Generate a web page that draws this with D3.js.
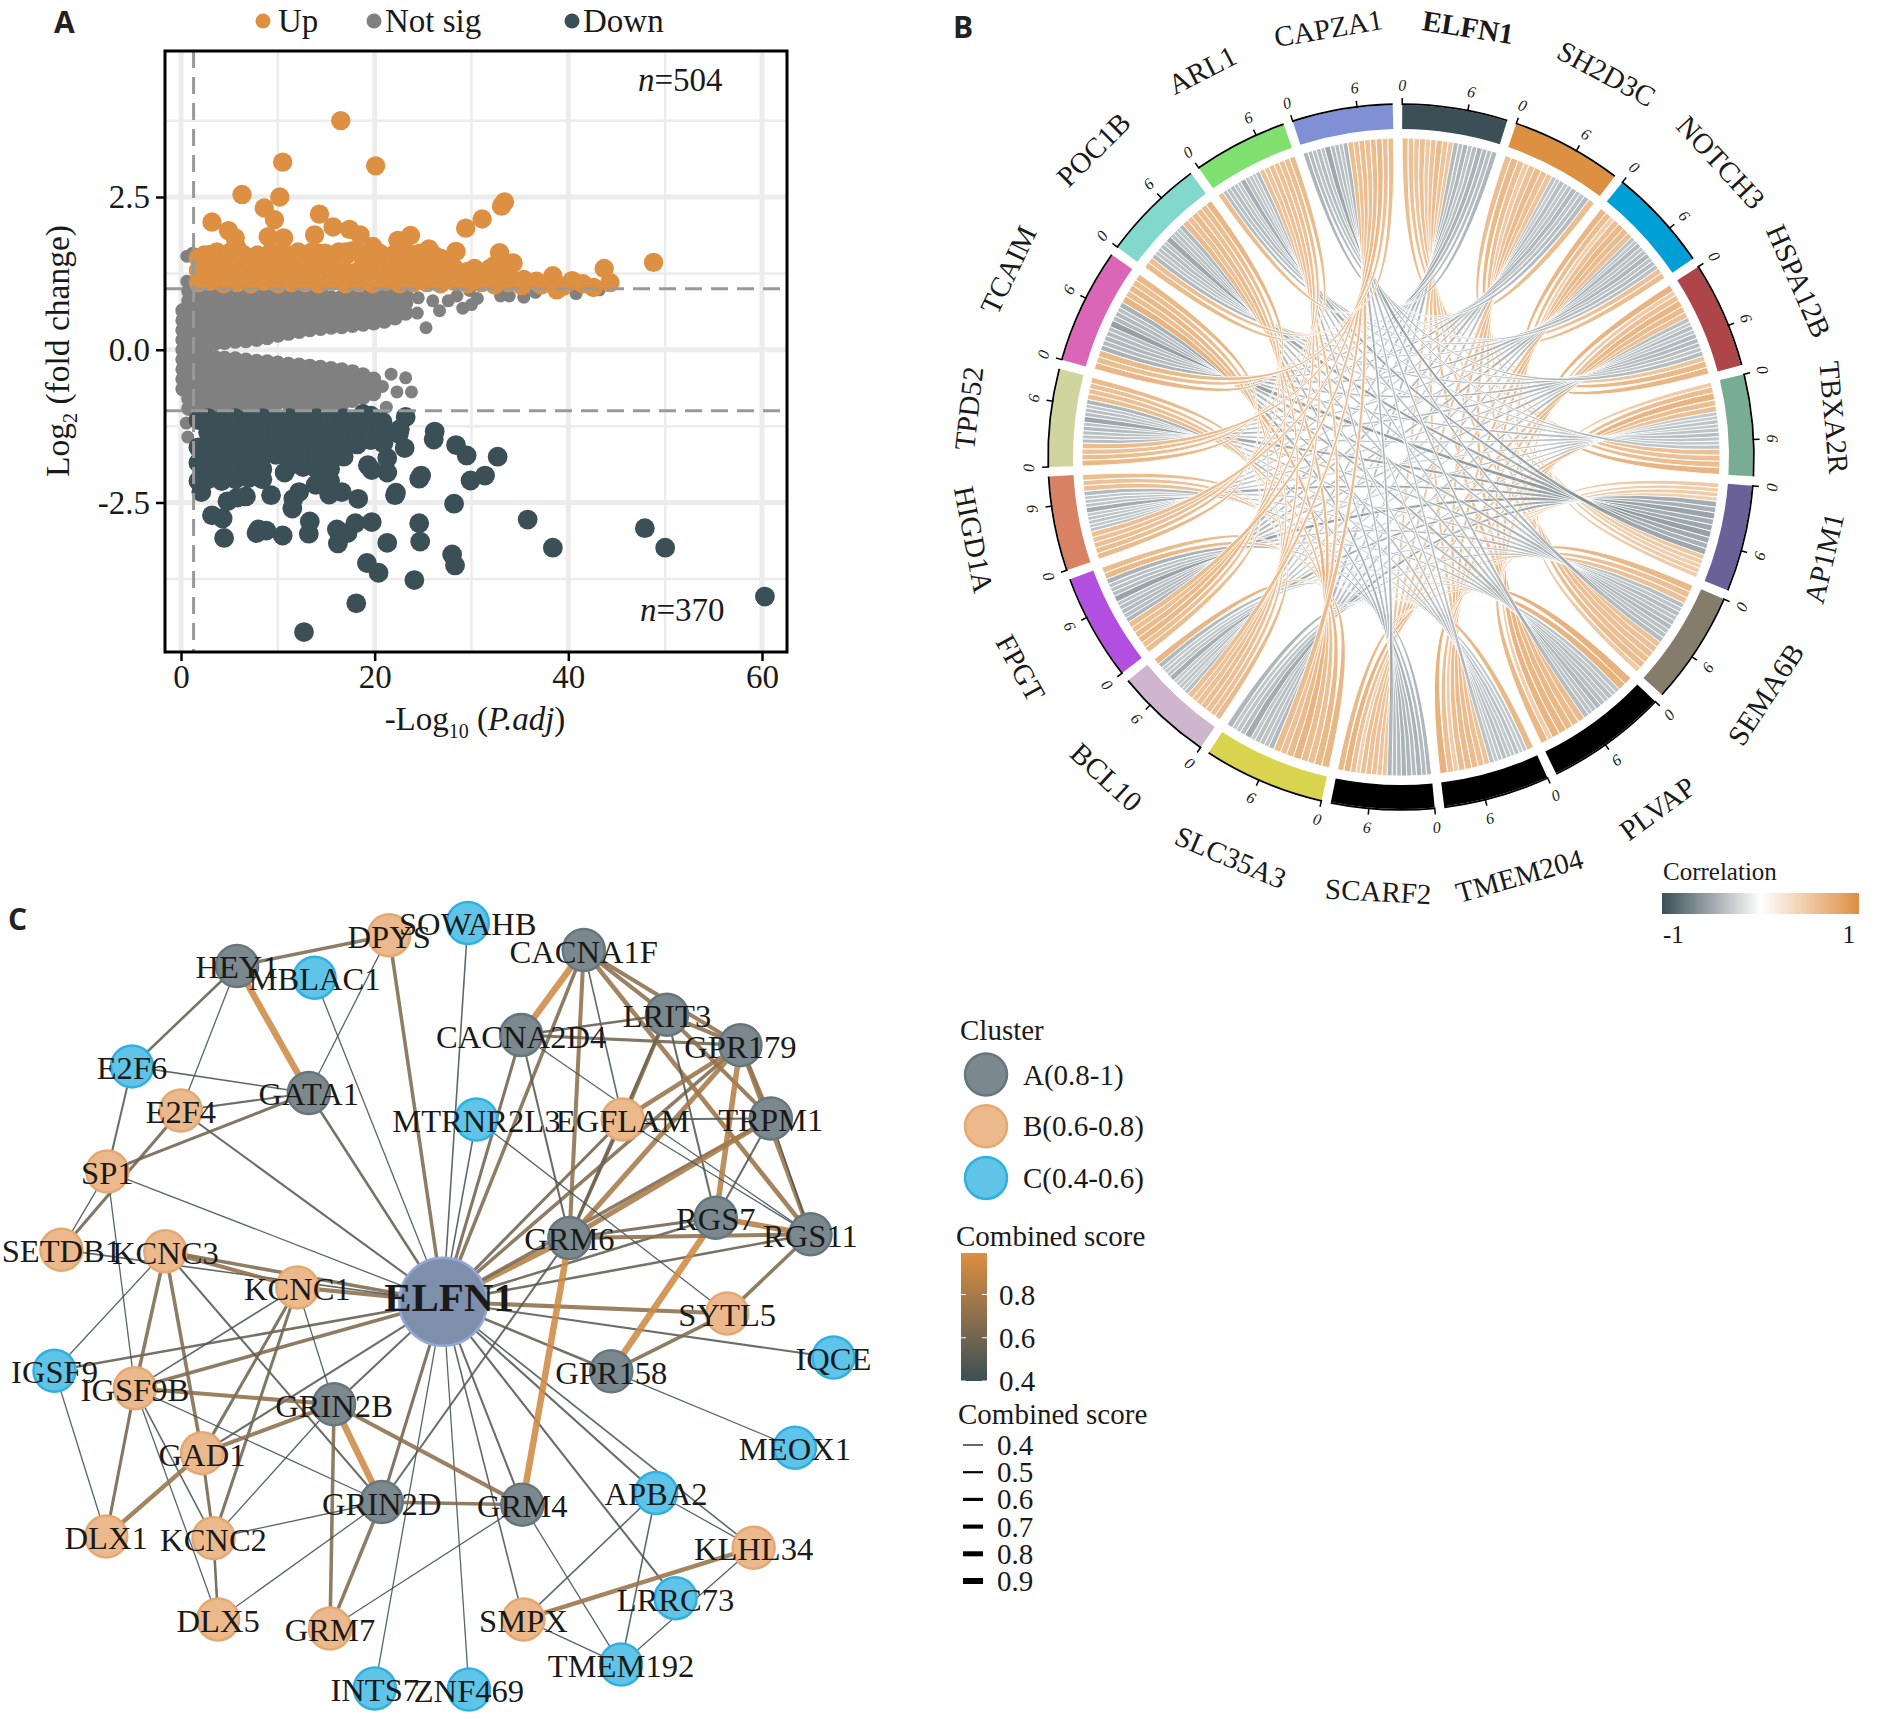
<!DOCTYPE html>
<html>
<head>
<meta charset="utf-8">
<script src="https://cdn.jsdelivr.net/npm/d3@7"></script>
<style>
	body { margin: 0; background: #fff; }
	text { font-family: 'Liberation Serif', serif; fill: #1a1a1a; }
	.panelTag { font-family: 'Open Sans', sans-serif; font-weight: 700; font-size: 30px; fill: #222; }
</style>
</head>
<body>
<div id="chart"></div>
<script>
// panel A, volcano: isolated dots are [x, y], dense parts are columns [x, y1, y2, ...]
var upDots = [[16.5,3.75],[10.5,3.07],[20.1,3.01],[6.3,2.54],[10.2,2.5],[33.4,2.42],[33.1,2.35],[8.6,2.32],[9.65,2.13],[14.3,2.22],[31.1,2.14],[29.4,1.99],[3.2,2.09],[4.9,1.95],[15.7,2.01],[17.4,1.97],[18.5,1.88],[23.7,1.87],[22.4,1.79],[13.8,1.88],[9,1.85],[10.6,1.83],[5.6,1.83],[19.8,1.69],[25.6,1.65],[28.4,1.61],[32.9,1.59],[34.3,1.42],[48.8,1.43],[43.7,1.33],[44.3,1.1],[38.4,1.21],[40.4,1.13],[41.5,1.08],[42.6,1.02],[38.8,.98],[35.4,1.15],[36.7,1.12],[30.3,1.33],[31.9,1.33]];
var upColumns = [[1.8,1.1,1.3,1.5],[2.4,1.55],[3,1.12,1.32,1.56],[3.7,1.6],[4.4,1.08,1.28,1.5],[5.1,1.6],[5.8,1.1,1.3,1.52,1.66],[6.5,1.55],[7.2,1.08,1.28,1.46],[7.9,1.55],[8.6,1.12,1.32,1.5],[9.3,1.6],[10,1.08,1.3,1.54],[10.7,1.58],[11.4,1.1,1.28,1.5],[12.1,1.6],[12.8,1.1,1.3,1.52],[13.5,1.6],[14.2,1.08,1.3,1.5,1.58],[14.9,1.58],[15.6,1.12,1.32,1.5],[16.3,1.6],[17,1.08,1.28,1.54,1.6],[17.7,1.62],[18.4,1.1,1.3,1.58],[19.1,1.55],[19.8,1.08,1.3,1.5],[20.5,1.58],[21.2,1.12,1.32,1.46],[21.9,1.55],[22.6,1.08,1.3,1.5,1.6],[23.3,1.6],[24,1.1,1.3,1.55],[24.7,1.58],[25.4,1.1,1.3,1.48],[26.1,1.55],[26.8,1.08,1.3,1.5],[28.2,1.12,1.34],[29.6,1.08,1.28],[31,1.1,1.25],[32.4,1.06,1.22,1.38],[33.8,1.1,1.3],[35.2,1.05],[37.2,1.06],[39.5,1.04]];
var downDots = [[12.7,-4.62],[18.1,-4.15],[60.3,-4.04],[24.1,-3.77],[20.4,-3.65],[19.2,-3.49],[28.3,-3.53],[28,-3.35],[38.4,-3.24],[50,-3.24],[47.9,-2.92],[35.8,-2.78],[24.7,-3.14],[24.6,-2.84],[21.3,-3.16],[19.7,-2.82],[18,-2.84],[17.2,-3],[16.2,-3.17],[16.1,-2.94],[13.3,-2.81],[13.2,-3.01],[10.5,-3.04],[7.8,-3],[8,-2.94],[8.8,-2.96],[4.45,-3.08],[3.2,-2.71],[4.3,-2.76],[11.5,-2.6],[11.6,-2.44],[28.2,-2.52],[22.1,-2.38],[22.2,-2.34],[18.3,-2.44],[16.6,-2.33],[15.3,-2.37],[12.2,-2.33],[9.3,-2.38],[6.7,-2.4],[4.8,-2.48],[2.1,-2.33],[32.7,-1.75],[31.4,-2.06],[29.9,-2.14],[24.8,-2.06],[24.6,-2.11],[28.4,-1.56],[29.5,-1.73],[26.2,-1.34],[26.1,-1.47],[23.1,-1.61],[23.2,-1.1],[22.6,-1.3],[22.5,-1.38],[21.3,-2.01],[21.3,-1.77],[20.9,-1.53],[19.3,-1.89],[19.7,-1.97],[18.8,-1.05],[13.9,-2.21],[10.7,-2.01],[5.8,-2.42],[15.4,-2.15],[14.8,-2.05]];
var downColumns = [[1.8,-1.15,-1.6,-1.85,-2.15],[2.8,-1.12,-1.35,-1.55,-1.75,-1.95,-2.12],[4.2,-1.15,-1.35,-1.55,-1.75,-1.95,-2.15],[5.6,-1.12,-1.35,-1.55,-1.75,-1.95,-2.12],[7,-1.15,-1.35,-1.55,-1.75,-1.95,-2.1],[8.4,-1.12,-1.35,-1.55,-1.75,-1.95,-2.12],[9.8,-1.15,-1.35,-1.55,-1.72],[11.2,-1.12,-1.35,-1.55,-1.72,-1.9],[12.6,-1.15,-1.35,-1.55,-1.75,-1.92],[14,-1.12,-1.35,-1.55,-1.78,-1.95],[15.4,-1.15,-1.35,-1.55,-1.75,-1.95],[16.8,-1.12,-1.35,-1.55,-1.75],[18.2,-1.15,-1.35,-1.55],[19.6,-1.08,-1.35,-1.48],[20.8,-1.18,-1.32]];
var greyDots = [[.6,1.53],[1.2,1.58],[.6,1.12],[.7,-1.43],[.55,-1.2],[25.3,.36],[24.4,.6],[26.7,.64],[26,.8],[27.6,.8],[29.1,.68],[30,.74],[30.6,.84],[33,.88],[33.9,.88],[35.4,.86],[36.6,.94],[40.8,.92],[43.2,.98],[33,.97],[29.8,.97],[24.5,.85],[28.5,.88],[21.7,-.4],[23.2,-.46],[22.3,-.69],[23.8,-.69],[21.2,-.94],[20.8,-.6]];
var greyColumns = [
	[.2,-.64,-.48,-.32,-.16,0,.16,.32,.48,.64],
	[.8,-.96,-.8,-.64,-.48,-.32,-.16,0,.16,.32,.48,.64,.8,.96],
	[1.6,-.96,-.8,-.64,-.48,-.32,-.16,0,.16,.32,.48,.64,.8,.96],
	[2.5,-.96,-.8,-.64,-.48,-.32,-.16,0,.16,.32,.48,.64,.8,.96],
	[3.5,.11,.27,.43,.59,.75,.91,-.13,-.29,-.45,-.61,-.77,-.93],
	[4.5,.12,.28,.44,.6,.76,.92,-.14,-.3,-.46,-.62,-.78,-.93],
	[5.6,.14,.3,.46,.62,.78,.93,-.15,-.31,-.47,-.63,-.79,-.93],
	[6.7,.15,.31,.47,.63,.79,.93,-.17,-.33,-.49,-.65,-.81,-.93],
	[7.8,.17,.33,.49,.65,.81,.93,-.19,-.35,-.51,-.67,-.83,-.93],
	[8.9,.2,.36,.52,.68,.84,.95,-.2,-.36,-.52,-.68,-.84,-.94],
	[10,.24,.4,.56,.72,.88,-.22,-.38,-.54,-.7,-.86],
	[11.1,.27,.43,.59,.75,.91,-.24,-.4,-.56,-.72,-.88],
	[12.2,.3,.46,.62,.78,.93,-.25,-.41,-.57,-.73,-.89],
	[13.3,.33,.49,.65,.81,.94,-.27,-.43,-.59,-.75,-.91],
	[14.4,.35,.51,.67,.83,.95,-.29,-.45,-.61,-.77,-.92],
	[15.5,.37,.53,.69,.85,-.31,-.47,-.63,-.79,-.93],
	[16.6,.38,.54,.7,.86,-.33,-.49,-.65,-.81,-.9],
	[17.7,.4,.56,.72,.88,-.36,-.52,-.68,-.83],
	[18.8,.42,.58,.74,.9,-.41,-.57,-.73,-.78],
	[19.9,.44,.6,.76,.9,-.48,-.6,-.72],
	[21,.47,.63,.79,.92],
	[22.1,.52,.68,.84,.93],
	[23.2,.6,.76,.9]
];
var volcanoXTicks = [0, 20, 40, 60];
var volcanoYTicks = [-2.5, 0, 2.5];
var volcanoYLabels = ['-2.5', '0.0', '2.5'];
var volcanoXMinor = [10, 30, 50];
var volcanoYMinor = [-3.75, -1.25, 1.25, 3.75];

// panel B, chord: clockwise from 12 o'clock
var genes = ['ELFN1','SH2D3C','NOTCH3','HSPA12B','TBXA2R','AP1M1','SEMA6B','PLVAP','TMEM204','SCARF2','SLC35A3','BCL10','FPGT','HIGD1A','TPD52','TCAIM','POC1B','ARL1','CAPZA1'];
var geneTotals = [9.7,10.2,9.5,9.8,9.35,9.8,10.4,11.2,9.8,9.5,11.2,9,9.8,8.7,9,10.6,9.5,8.7,9.25];
var geneColors = ['#3a4f56','#dd8f42','#00a0d6','#ae4549','#78ad93','#6a6198','#857c6b','#000000','#000000','#000000','#d9d44d','#cfb6cf','#b34fe0','#d88263','#d0d59f','#d966b6','#83d8cc','#7fe06f','#7f90d4'];
// upper triangle of the correlation table, one row per gene
var corrRows = [
	[.62,.58,.55,.6,.52,.57,.63,.56,.54,-.5,-.46,-.52,-.44,-.48,-.55,-.5,-.47,-.53],
	[.61,.66,.6,.5,.58,.64,.6,.55,-.42,-.38,-.47,-.4,-.44,-.5,-.42,-.45,-.48],
	[.68,.62,.47,.6,.66,.63,.58,-.44,-.41,-.5,-.43,-.46,-.52,-.44,-.48,-.45],
	[.7,.5,.6,.69,.64,.6,-.46,-.4,-.48,-.42,-.5,-.5,-.47,-.43,-.49],
	[.48,.62,.7,.62,.59,-.4,-.38,-.44,-.4,-.44,-.47,-.42,-.4,-.43],
	[.5,.46,.48,.45,-.6,-.58,-.66,-.6,-.64,-.68,-.62,-.58,-.63],
	[.66,.6,.58,-.46,-.42,-.48,-.43,-.47,-.5,-.44,-.46,-.48],
	[.72,.7,-.42,-.4,-.46,-.42,-.46,-.5,-.44,-.42,-.47],
	[.66,-.4,-.38,-.45,-.4,-.42,-.46,-.41,-.4,-.44],
	[-.52,-.5,-.55,-.5,-.53,-.56,-.5,-.48,-.52],
	[.68,.66,.6,.62,.7,.64,.58,.62],
	[.64,.58,.6,.62,.6,.56,.6],
	[.62,.6,.66,.64,.6,.62],
	[.64,.62,.6,.58,.6],
	[.66,.62,.6,.63],
	[.68,.62,.66],
	[.64,.6],
	[.62]
];
var chordTicks = [0, 6];

// panel C, network: node places are in the layout units of the figure
var nodeNames = ['ELFN1','HEY1','DPYS','SOWAHB','MBLAC1','CACNA1F','CACNA2D4','LRIT3','GPR179','E2F6','GATA1','E2F4','MTRNR2L3','EGFLAM','TRPM1','SP1','RGS7','RGS11','GRM6','SETDB1','KCNC3','KCNC1','SYTL5','IQCE','GPR158','IGSF9','IGSF9B','GRIN2B','GAD1','MEOX1','APBA2','GRIN2D','GRM4','KLHL34','DLX1','KCNC2','LRRC73','DLX5','GRM7','SMPX','TMEM192','INTS7','ZNF469'];
var nodeClusters = ['H','A','B','C','C','A','A','A','A','C','A','B','C','B','A','B','A','A','A','B','B','B','B','C','A','C','B','A','B','C','C','A','A','B','B','B','C','B','B','B','C','C','C'];
var nodeX = [772,413,678,815,548,1017,908,1162,1290,230,538,315,830,1085,1343,187,1247,1412,992,107,288,518,1267,1452,1065,95,235,582,352,1385,1143,665,910,1313,185,372,1177,380,575,912,1082,653,817];
var nodeY = [775,143,85,62,165,113,273,235,292,332,382,415,432,432,430,530,617,648,655,677,680,748,797,880,906,905,938,968,1060,1050,1135,1152,1157,1238,1217,1220,1333,1373,1390,1373,1458,1503,1505];
var edgeFrom = ['ELFN1','ELFN1','ELFN1','ELFN1','ELFN1','ELFN1','ELFN1','ELFN1','ELFN1','ELFN1','ELFN1','ELFN1','ELFN1','ELFN1','ELFN1','ELFN1','ELFN1','ELFN1','ELFN1','ELFN1','ELFN1','ELFN1','ELFN1','ELFN1','ELFN1','ELFN1','ELFN1','ELFN1','ELFN1','ELFN1','ELFN1','ELFN1','ELFN1','HEY1','HEY1','HEY1','HEY1','GATA1','GATA1','GATA1','GATA1','E2F4','SP1','SP1','SP1','CACNA1F','CACNA1F','CACNA1F','CACNA1F','CACNA1F','CACNA1F','CACNA2D4','CACNA2D4','CACNA2D4','CACNA2D4','LRIT3','LRIT3','LRIT3','LRIT3','LRIT3','GPR179','GPR179','GPR179','GPR179','GPR179','TRPM1','TRPM1','TRPM1','TRPM1','EGFLAM','EGFLAM','MTRNR2L3','RGS7','RGS7','RGS7','RGS11','RGS11','SYTL5','GPR158','GRM6','GRM6','KCNC3','KCNC3','KCNC3','KCNC3','KCNC3','KCNC1','KCNC1','KCNC1','KCNC1','IGSF9','IGSF9B','IGSF9B','IGSF9B','IGSF9B','IGSF9B','GRIN2B','GRIN2B','GRIN2B','GRIN2B','GRIN2B','GAD1','GAD1','GRIN2D','GRIN2D','GRIN2D','GRIN2D','KCNC2','GRM4','GRM4','APBA2','APBA2','APBA2','KLHL34','KLHL34','SMPX'];
var edgeTo = ['DPYS','MBLAC1','SOWAHB','MTRNR2L3','CACNA1F','CACNA2D4','GATA1','E2F4','SP1','KCNC3','KCNC1','SETDB1','IGSF9','IGSF9B','GRIN2B','GAD1','GRIN2D','INTS7','ZNF469','SMPX','GRM4','LRRC73','APBA2','KLHL34','GPR158','IQCE','SYTL5','RGS11','RGS7','GRM6','EGFLAM','GPR179','TRPM1','DPYS','GATA1','E2F6','E2F4','DPYS','E2F6','E2F4','SP1','SETDB1','E2F6','SETDB1','IGSF9B','CACNA2D4','LRIT3','GPR179','RGS11','GRM6','EGFLAM','LRIT3','GPR179','GRM6','RGS11','GPR179','TRPM1','EGFLAM','GRM6','RGS7','TRPM1','RGS11','RGS7','EGFLAM','GRM6','EGFLAM','RGS7','GRM6','RGS11','GRM6','RGS11','SYTL5','RGS11','GRM6','GPR158','GRM6','SYTL5','GPR158','MEOX1','GRM4','GRIN2D','KCNC1','IGSF9B','GAD1','GRIN2D','IGSF9','IGSF9B','GAD1','KCNC2','GRIN2B','DLX1','GRIN2B','DLX1','KCNC2','GRIN2D','DLX5','GAD1','KCNC2','GRIN2D','GRM4','GRM7','DLX1','KCNC2','GRM4','GRM7','KCNC2','DLX5','DLX5','GRM7','TMEM192','KLHL34','SMPX','TMEM192','SMPX','TMEM192','TMEM192'];
var edgeScore = [.65,.42,.45,.45,.65,.6,.55,.5,.42,.65,.7,.45,.55,.65,.5,.5,.6,.42,.42,.45,.5,.5,.5,.45,.55,.5,.7,.55,.55,.85,.6,.65,.65,.65,.95,.55,.42,.42,.45,.5,.6,.6,.5,.42,.42,.95,.7,.7,.75,.7,.45,.55,.6,.5,.42,.7,.7,.7,.6,.5,.7,.75,.85,.75,.8,.5,.5,.8,.45,.6,.42,.42,.85,.6,.95,.7,.65,.65,.42,.95,.5,.7,.65,.65,.5,.42,.45,.6,.6,.42,.42,.7,.6,.45,.42,.42,.7,.42,.95,.7,.65,.75,.6,.65,.65,.42,.42,.55,.42,.42,.42,.45,.45,.75,.42,.42];
var clusterNames = ['A(0.8-1)', 'B(0.6-0.8)', 'C(0.4-0.6)'];
var clusterFill = ['#7b888e', '#ecb98d', '#5fc4e8'];
var clusterLine = ['#65767d', '#e4a873', '#2fb0e0'];
var scoreTicks = [0.8, 0.6, 0.4];
var scoreWidths = [0.4, 0.5, 0.6, 0.7, 0.8, 0.9];

var svg = d3.select('#chart').append('svg')
	.attr('width', 1886)
	.attr('height', 1723)
	.style('display', 'block');

var dark = '#3a4f56', orange = '#dd8f42', grey = '#808080';

var expandColumns = function(cols){
	var out = [];
	cols.forEach(function(c){
		c.slice(1).forEach(function(y){ out.push([c[0], y]); });
	});
	return out;
};

var addVolcano = function(){
	var x = d3.scaleLinear().domain([0, 60]).range([181, 762]);
	var y = d3.scaleLinear().domain([-2.5, 2.5]).range([502.5, 197]);
	var g = svg.append('g').attr('id', 'volcano');
	var left = 165, right = 787, top = 51, bottom = 652;

	g.selectAll('.minorX').data(volcanoXMinor).enter().append('line')
		.attr('x1', function(d){ return x(d); }).attr('x2', function(d){ return x(d); })
		.attr('y1', top).attr('y2', bottom).attr('stroke', '#ececec').attr('stroke-width', 2.5);
	g.selectAll('.minorY').data(volcanoYMinor).enter().append('line')
		.attr('y1', function(d){ return y(d); }).attr('y2', function(d){ return y(d); })
		.attr('x1', left).attr('x2', right).attr('stroke', '#ececec').attr('stroke-width', 2.5);
	g.selectAll('.majorX').data(volcanoXTicks).enter().append('line')
		.attr('x1', function(d){ return x(d); }).attr('x2', function(d){ return x(d); })
		.attr('y1', top).attr('y2', bottom).attr('stroke', '#ececec').attr('stroke-width', 5);
	g.selectAll('.majorY').data(volcanoYTicks).enter().append('line')
		.attr('y1', function(d){ return y(d); }).attr('y2', function(d){ return y(d); })
		.attr('x1', left).attr('x2', right).attr('stroke', '#ececec').attr('stroke-width', 5);

	var addDots = function(points, color, r){
		g.append('g').selectAll('circle').data(points).enter().append('circle')
			.attr('cx', function(d){ return x(d[0]); })
			.attr('cy', function(d){ return y(d[1]); })
			.attr('r', r)
			.attr('fill', color);
	};
	addDots(expandColumns(greyColumns), grey, 7.6);
	addDots(greyDots, grey, 6.5);
	addDots(upDots.concat(expandColumns(upColumns)), orange, 9.7);
	addDots(downDots.concat(expandColumns(downColumns)), dark, 9.9);

	// cut-offs sit on top of the dots
	g.append('line').attr('x1', x(1.3)).attr('x2', x(1.3)).attr('y1', top).attr('y2', bottom)
		.attr('stroke', '#999').attr('stroke-width', 3).attr('stroke-dasharray', '17 9');
	[1, -1].forEach(function(v){
		g.append('line').attr('x1', left).attr('x2', right).attr('y1', y(v)).attr('y2', y(v))
			.attr('stroke', '#999').attr('stroke-width', 3).attr('stroke-dasharray', '17 9');
	});

	g.append('rect').attr('x', left).attr('y', top).attr('width', right - left).attr('height', bottom - top)
		.attr('fill', 'none').attr('stroke', '#000').attr('stroke-width', 3);

	var xAxis = d3.axisBottom(x).tickValues(volcanoXTicks).tickSize(9).tickPadding(4).tickFormat(d3.format('d'));
	var yAxis = d3.axisLeft(y).tickValues(volcanoYTicks).tickSize(9).tickPadding(6)
		.tickFormat(function(d, i){ return volcanoYLabels[i]; });
	var gx = g.append('g').attr('transform', 'translate(0,' + bottom + ')').call(xAxis);
	var gy = g.append('g').attr('transform', 'translate(' + left + ',0)').call(yAxis);
	[gx, gy].forEach(function(a){
		a.select('.domain').remove();
		a.selectAll('line').attr('stroke', '#000').attr('stroke-width', 2.5);
		a.selectAll('text').style('font-family', 'Liberation Serif').style('font-size', '33px').attr('fill', '#1a1a1a');
	});

	var xt = g.append('text').attr('x', 475).attr('y', 730).attr('text-anchor', 'middle').style('font-size', '33px');
	xt.append('tspan').text('-Log');
	xt.append('tspan').attr('dy', 8).style('font-size', '20px').text('10');
	xt.append('tspan').attr('dy', -8).text(' (');
	xt.append('tspan').style('font-style', 'italic').text('P.adj');
	xt.append('tspan').text(')');

	var yt = g.append('text').attr('transform', 'translate(69,351) rotate(-90)').attr('text-anchor', 'middle').style('font-size', '33.5px');
	yt.append('tspan').text('Log');
	yt.append('tspan').attr('dy', 8).style('font-size', '20px').text('2');
	yt.append('tspan').attr('dy', -8).text(' (fold change)');

	var addN = function(px, py, value){
		var t = g.append('text').attr('x', px).attr('y', py).style('font-size', '33px');
		t.append('tspan').style('font-style', 'italic').text('n');
		t.append('tspan').text('=' + value);
	};
	addN(638, 91, '504');
	addN(640, 621, '370');

	var legendItems = [['Up', orange, 263, 278], ['Not sig', grey, 374, 385], ['Down', dark, 572, 583]];
	legendItems.forEach(function(d){
		g.append('circle').attr('cx', d[2]).attr('cy', 21).attr('r', 7.5).attr('fill', d[1]);
		g.append('text').attr('x', d[3]).attr('y', 32).style('font-size', '33px').text(d[0]);
	});
};

// every pair gets one end in each sector, first end goes to the next sector clockwise
var addChord = function(){
	var cx = 1401, cy = 457, n = genes.length;
	var rOuter = 352, rInner = 328, rLink = 319;
	var gapDeg = 1.55;
	var g = svg.append('g').attr('id', 'chord').attr('transform', 'translate(' + cx + ',' + cy + ')');
	var corrAt = function(i, j){
		return i < j ? corrRows[i][j - i - 1] : corrRows[j][i - j - 1];
	};
	var perUnit = (360 - n * gapDeg) / d3.sum(geneTotals);
	var rad = function(deg){ return deg * Math.PI / 180; };

	var sectors = [];
	var pos = 0.2;
	genes.forEach(function(name, i){
		var angle = d3.scaleLinear().domain([0, geneTotals[i]]).range([pos, pos + geneTotals[i] * perUnit]);
		sectors.push({ name: name, index: i, angle: angle, start: pos, end: pos + geneTotals[i] * perUnit });
		pos += geneTotals[i] * perUnit + gapDeg;
	});

	var ends = {};
	sectors.forEach(function(s, i){
		var rowSum = 0;
		d3.range(1, n).forEach(function(k){ rowSum += Math.abs(corrAt(i, (i + k) % n)); });
		var a = d3.scaleLinear().domain([0, rowSum]).range([s.start, s.end]);
		var run = 0;
		d3.range(1, n).forEach(function(k){
			var j = (i + k) % n;
			var w = Math.abs(corrAt(i, j));
			ends[i + '_' + j] = { startAngle: rad(a(run)), endAngle: rad(a(run + w)), radius: rLink };
			run += w;
		});
	});

	var links = [];
	corrRows.forEach(function(row, i){
		row.forEach(function(v, k){
			var j = i + k + 1;
			links.push({ source: ends[i + '_' + j], target: ends[j + '_' + i], value: v });
		});
	});

	var corrColor = d3.scaleLinear().domain([-1, 0, 1]).range([dark, '#ffffff', orange]);
	var ribbon = d3.ribbon();
	g.append('g').selectAll('path').data(links).enter().append('path')
		.attr('d', ribbon)
		.attr('fill', function(d){ return corrColor(d.value); })
		.attr('fill-opacity', function(d){ return d.value < 0 ? 0.78 : 0.95; })
		.attr('stroke', '#fff')
		.attr('stroke-width', 0.9);

	var arc = d3.arc();
	g.append('g').selectAll('path').data(sectors).enter().append('path')
		.attr('d', function(d){
			return arc({ innerRadius: rInner, outerRadius: rOuter, startAngle: rad(d.start), endAngle: rad(d.end) });
		})
		.attr('fill', function(d, i){ return geneColors[i]; });

	// axis on the outer edge
	g.append('g').selectAll('path').data(sectors).enter().append('path')
		.attr('d', function(d){
			return arc({ innerRadius: rOuter, outerRadius: rOuter + 1.8, startAngle: rad(d.start), endAngle: rad(d.end) });
		})
		.attr('fill', '#000');

	var facing = function(deg){
		return (deg > 90 && deg < 270) ? deg - 180 : deg;
	};
	var place = function(deg, r){
		return 'rotate(' + deg + ') translate(0,' + (-r) + ') rotate(' + (facing(deg) - deg) + ')';
	};
	sectors.forEach(function(s, i){
		chordTicks.forEach(function(t){
			var deg = s.angle(t);
			g.append('line').attr('transform', 'rotate(' + deg + ')')
				.attr('y1', -rOuter).attr('y2', -rOuter - 7).attr('stroke', '#000').attr('stroke-width', 1.5);
			g.append('text').attr('transform', place(deg, rOuter + 20))
				.attr('text-anchor', 'middle').attr('dominant-baseline', 'central')
				.style('font-size', '16px').style('font-style', 'italic').text(t);
		});
		var mid = (s.start + s.end) / 2;
		g.append('text').attr('transform', place(mid, 435))
			.attr('text-anchor', 'middle').attr('dominant-baseline', 'central')
			.style('font-size', '29px').style('font-weight', i == 0 ? 700 : 400).text(s.name);
	});

	// legend
	var grad = svg.append('defs').append('linearGradient').attr('id', 'corrGrad');
	[[0, dark], [50, '#ffffff'], [100, orange]].forEach(function(d){
		grad.append('stop').attr('offset', d[0] + '%').attr('stop-color', d[1]);
	});
	svg.append('text').attr('x', 1663).attr('y', 880).style('font-size', '25px').text('Correlation');
	svg.append('rect').attr('x', 1662).attr('y', 893).attr('width', 197).attr('height', 21).attr('fill', 'url(#corrGrad)');
	svg.append('text').attr('x', 1663).attr('y', 943).style('font-size', '25px').text('-1');
	svg.append('text').attr('x', 1855).attr('y', 943).attr('text-anchor', 'end').style('font-size', '25px').text('1');
};

var addNetwork = function(){
	var px = d3.scaleLinear().domain([0, 1568]).range([0, 900]);
	var py = d3.scaleLinear().domain([0, 1568]).range([890, 1723]);
	var scoreColor = d3.scaleLinear().domain([0.4, 1]).range([dark, orange]);
	var scoreWidth = d3.scaleLinear().domain([0.4, 1]).range([1.1, 7]);
	var g = svg.append('g').attr('id', 'network');
	var at = {};
	nodeNames.forEach(function(name, i){ at[name] = i; });

	g.append('g').selectAll('line').data(edgeScore).enter().append('line')
		.attr('x1', function(d, i){ return px(nodeX[at[edgeFrom[i]]]); })
		.attr('y1', function(d, i){ return py(nodeY[at[edgeFrom[i]]]); })
		.attr('x2', function(d, i){ return px(nodeX[at[edgeTo[i]]]); })
		.attr('y2', function(d, i){ return py(nodeY[at[edgeTo[i]]]); })
		.attr('stroke', function(d){ return scoreColor(d); })
		.attr('stroke-width', function(d){ return scoreWidth(d); })
		.attr('stroke-opacity', 0.88);

	var clusterIndex = { A: 0, B: 1, C: 2 };
	g.append('g').selectAll('circle').data(nodeNames).enter().append('circle')
		.attr('cx', function(d, i){ return px(nodeX[i]); })
		.attr('cy', function(d, i){ return py(nodeY[i]); })
		.attr('r', function(d, i){ return nodeClusters[i] == 'H' ? 44 : 21; })
		.attr('fill', function(d, i){ return nodeClusters[i] == 'H' ? '#7e8fab' : clusterFill[clusterIndex[nodeClusters[i]]]; })
		.attr('stroke', function(d, i){ return nodeClusters[i] == 'H' ? '#93a8d8' : clusterLine[clusterIndex[nodeClusters[i]]]; })
		.attr('stroke-width', 2.5);

	g.append('g').selectAll('text').data(nodeNames).enter().append('text')
		.attr('x', function(d, i){ return px(nodeX[i]) + (i == 0 ? 6 : 0); })
		.attr('y', function(d, i){ return py(nodeY[i]) + (i == 0 ? -5 : 1.5); })
		.attr('text-anchor', 'middle')
		.attr('dominant-baseline', 'central')
		.style('font-size', function(d, i){ return i == 0 ? '41px' : '32.6px'; })
		.style('font-weight', function(d, i){ return i == 0 ? 700 : 400; })
		.text(function(d){ return d; });

	// cluster legend
	svg.append('text').attr('x', 960).attr('y', 1040).style('font-size', '29px').text('Cluster');
	clusterNames.forEach(function(name, i){
		svg.append('circle').attr('cx', 986).attr('cy', 1074.5 + i * 51.7).attr('r', 21)
			.attr('fill', clusterFill[i]).attr('stroke', clusterLine[i]).attr('stroke-width', 2.5);
		svg.append('text').attr('x', 1023).attr('y', 1084.5 + i * 51.7).style('font-size', '29px').text(name);
	});

	// colour bar
	var bar = d3.scaleLinear().domain([0.4, 0.8]).range([1381, 1294.5]);
	var grad = svg.append('defs').append('linearGradient').attr('id', 'scoreGrad')
		.attr('x1', 0).attr('x2', 0).attr('y1', 1).attr('y2', 0);
	grad.append('stop').attr('offset', '0%').attr('stop-color', dark);
	grad.append('stop').attr('offset', '100%').attr('stop-color', orange);
	svg.append('text').attr('x', 956).attr('y', 1245.5).style('font-size', '29px').text('Combined score');
	svg.append('rect').attr('x', 961).attr('y', 1253).attr('width', 26).attr('height', 128).attr('fill', 'url(#scoreGrad)');
	scoreTicks.forEach(function(v){
		[[961, 966], [982, 987]].forEach(function(s){
			svg.append('line').attr('x1', s[0]).attr('x2', s[1]).attr('y1', bar(v)).attr('y2', bar(v))
				.attr('stroke', '#fff').attr('stroke-width', 1);
		});
		svg.append('text').attr('x', 999).attr('y', bar(v) + 10).style('font-size', '29px').text(v.toFixed(1));
	});

	// line width legend
	var widthRow = d3.scalePoint().domain(scoreWidths).range([1445, 1581]);
	var legendWidth = d3.scaleLinear().domain([0.4, 0.9]).range([1.2, 6]);
	svg.append('text').attr('x', 958).attr('y', 1424).style('font-size', '29px').text('Combined score');
	scoreWidths.forEach(function(v){
		svg.append('line').attr('x1', 963).attr('x2', 983).attr('y1', widthRow(v)).attr('y2', widthRow(v))
			.attr('stroke', '#000').attr('stroke-width', legendWidth(v));
		svg.append('text').attr('x', 997).attr('y', widthRow(v) + 10).style('font-size', '29px').text(v.toFixed(1));
	});
};

addVolcano();
addChord();
addNetwork();

svg.append('text').attr('class', 'panelTag').attr('x', 54).attr('y', 33).text('A');
svg.append('text').attr('class', 'panelTag').attr('x', 953).attr('y', 38).text('B');
svg.append('text').attr('class', 'panelTag').attr('x', 8).attr('y', 930).text('C');
</script>
</body>
</html>
